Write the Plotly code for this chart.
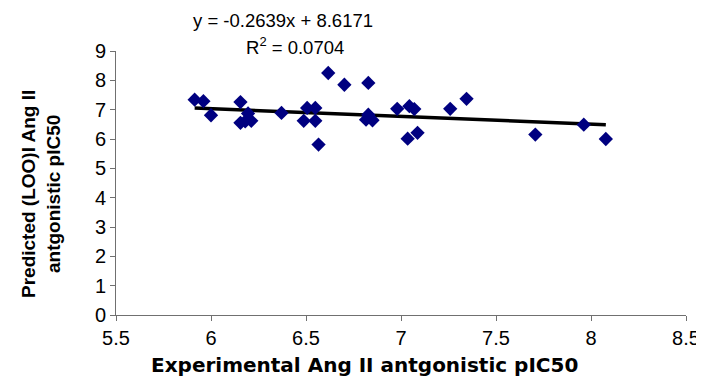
import plotly.graph_objects as go

experimental = [5.914, 5.960, 6.000, 6.155, 6.195, 6.155, 6.212, 6.180, 6.371, 6.506, 6.549,
                6.488, 6.549, 6.566, 6.617, 6.702, 6.828, 6.828, 6.816, 6.850, 6.980, 7.044,
                7.070, 7.035, 7.087, 7.259, 7.345, 7.707, 7.962, 8.078]
predicted = [7.34, 7.29, 6.81, 7.26, 6.87, 6.55, 6.62, 6.60, 6.89, 7.06, 7.06,
             6.62, 6.62, 5.81, 8.25, 7.85, 7.91, 6.83, 6.66, 6.64, 7.03, 7.12,
             7.02, 6.01, 6.21, 7.03, 7.37, 6.15, 6.49, 6.00]
slope = -0.2639
intercept = 8.6171
r2 = 0.0704
x_ticks = [5.5, 6, 6.5, 7, 7.5, 8, 8.5]
y_ticks = [0, 1, 2, 3, 4, 5, 6, 7, 8, 9]

xmin, xmax = min(experimental), max(experimental)
line_x = [xmin, xmax]
line_y = [slope * v + intercept for v in line_x]

fig = go.Figure()
fig.add_trace(go.Scatter(x=line_x, y=line_y, mode="lines",
                         line=dict(color="black", width=3.5), hoverinfo="skip"))
fig.add_trace(go.Scatter(x=experimental, y=predicted, mode="markers",
                         marker=dict(symbol="diamond", size=11, color="#000080",
                                     line=dict(width=0))))

font_family = "Liberation Sans, Arial, sans-serif"
axis_color = "#707070"
fig.update_layout(
    width=704, height=391,
    margin=dict(l=108, r=17, t=43, b=84),
    paper_bgcolor="white", plot_bgcolor="white",
    showlegend=False,
    font=dict(family=font_family, size=19, color="black"),
    xaxis=dict(range=[5.5, 8.5], tickvals=x_ticks, ticktext=[f"{v:g}" for v in x_ticks],
               showgrid=False, zeroline=False, showline=True, linecolor=axis_color, linewidth=1,
               ticks="outside", ticklen=5, tickcolor=axis_color,
               tickfont=dict(size=20)),
    yaxis=dict(range=[0, 9], tickvals=y_ticks, showgrid=False, zeroline=False,
               showline=True, linecolor=axis_color, linewidth=1,
               ticks="outside", ticklen=5, tickcolor=axis_color,
               tickfont=dict(size=20)),
)

fig.add_annotation(text="<b>Experimental Ang II antgonistic pIC50</b>", xref="paper", yref="paper",
                   x=(360 - 108) / 579, y=0, yshift=-50, showarrow=False,
                   font=dict(size=20, family="DejaVu Sans, sans-serif"),
                   xanchor="center", yanchor="middle")
fig.add_annotation(text="<b>Predicted (LOO)I Ang II<br>antgonistic pIC50</b>", xref="paper", yref="paper",
                   x=0, xshift=-75, y=0.5, yshift=-11, textangle=-90, showarrow=False,
                   font=dict(size=19),
                   xanchor="center", yanchor="middle")
fig.add_annotation(text=f"y = {slope:.4f}x + {intercept:.4f}", xref="paper", yref="paper",
                   x=(278 - 108) / 579, y=1, yshift=31, showarrow=False, font=dict(size=18.5),
                   xanchor="center", yanchor="middle")
fig.add_annotation(text=f"R<sup>2</sup> = {r2:.4f}", xref="paper", yref="paper",
                   x=(290 - 108) / 579, y=1, yshift=5, showarrow=False, font=dict(size=18.5),
                   xanchor="center", yanchor="middle")

fig.write_html("out.html")
